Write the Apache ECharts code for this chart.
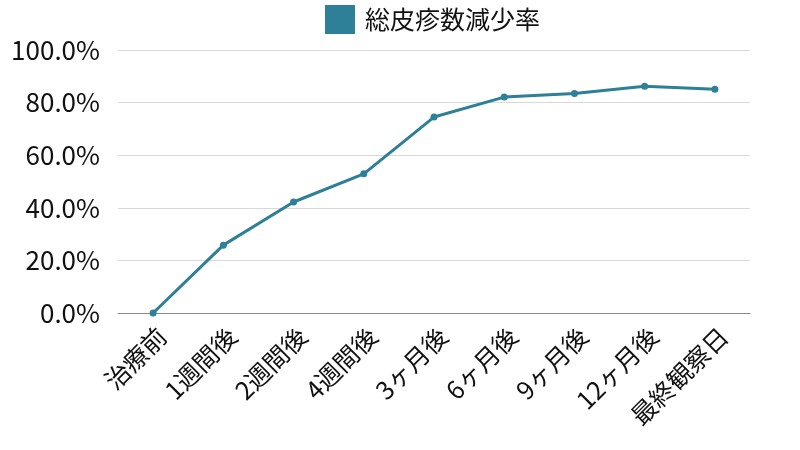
<!DOCTYPE html>
<html><head><meta charset="utf-8">
<script src="https://cdn.jsdelivr.net/npm/echarts@6/dist/echarts.min.js"></script>
<style>html,body{margin:0;padding:0;background:#fff}#c{width:800px;height:450px}</style>
</head><body><div id="c"></div>
<script>
const categories = ['治療前','1週間後','2週間後','4週間後','3ヶ月後','6ヶ月後','9ヶ月後','12ヶ月後','最終観察日'];
const reductionRate = [0, 25.8, 42.2, 52.9, 74.5, 82.1, 83.5, 86.2, 85.1];
const seriesName = '総皮疹数減少率';
const yTicks = {min: 0, max: 100, interval: 20};
const font = '"Noto Sans CJK JP", "Noto Sans", sans-serif';
const color = '#2e7f98';
const chart = echarts.init(document.getElementById('c'));
chart.setOption({
  animation: false,
  textStyle: {fontFamily: font},
  legend: {
    top: 0, left: 320,
    itemWidth: 30, itemHeight: 29, icon: 'rect', itemGap: 10,
    textStyle: {fontSize: 25, color: '#111', fontFamily: font, padding: [0, 0, 0, 5]},
    data: [seriesName]
  },
  grid: {left: 118, right: 50, top: 50, bottom: 137},
  xAxis: {
    type: 'category', data: categories, boundaryGap: true,
    axisLine: {lineStyle: {color: '#888', width: 1}},
    axisTick: {show: false},
    axisLabel: {rotate: 45, fontSize: 25, color: '#111', fontFamily: font, interval: 0, margin: 10, verticalAlign: 'top'}
  },
  yAxis: {
    type: 'value', min: yTicks.min, max: yTicks.max, interval: yTicks.interval,
    axisLine: {show: false}, axisTick: {show: false},
    splitLine: {lineStyle: {color: '#d9d9d9', width: 1}},
    axisLabel: {fontSize: 26, color: '#111', fontFamily: font, margin: 18,
      formatter: v => v.toFixed(1) + '%'}
  },
  series: [{
    name: seriesName, type: 'line', data: reductionRate,
    color: color,
    lineStyle: {width: 3, color: color},
    itemStyle: {color: color},
    symbol: 'circle', symbolSize: 7
  }]
});
</script></body></html>
